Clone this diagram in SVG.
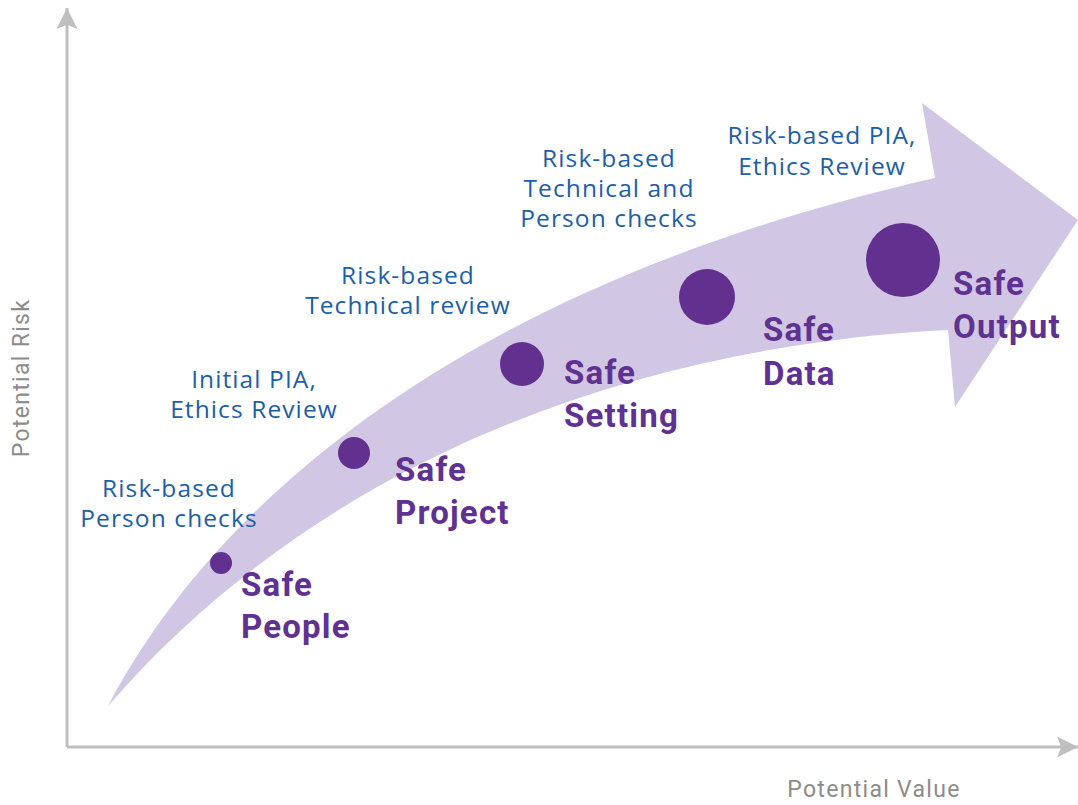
<svg xmlns="http://www.w3.org/2000/svg" width="1078" height="805" viewBox="0 0 1078 805">
<style>
.axis{stroke:#bfbfbf;stroke-width:3;fill:none}
.axlab{font-family:Roboto,"Liberation Sans",sans-serif;font-size:23px;letter-spacing:1.3px;fill:#8c8c8c}
.note{font-family:"Open Sans","Liberation Sans",sans-serif;font-size:24.5px;letter-spacing:1.1px;fill:#1b5ea9;text-anchor:middle}
.safe{font-family:Roboto,"Liberation Sans",sans-serif;font-size:33px;letter-spacing:1.2px;font-weight:bold;fill:#5f3192}
.dot{fill:#62318f}
</style>
<defs>
<marker id="ah" viewBox="0 0 10 10" refX="10" refY="5" markerWidth="7" markerHeight="7" orient="auto" markerUnits="strokeWidth">
<path d="M0,0 L10,5 L0,10 L2,5 Z" fill="#bfbfbf"/>
</marker>
</defs>
<g id="connectors">
<path class="axis" d="M67,747 L67,8" marker-end="url(#ah)"/>
<path class="axis" d="M67,747 L1078,747" marker-end="url(#ah)"/>
</g>
<g id="band">
<path d="M108,706 C190,550 400,300 935,178 L922,103 L1078,220 L955,407 L948,330 C650,345 330,450 108,706 Z" fill="#d1c6e3"/>
</g>
<g id="axis-labels">
<text class="axlab" transform="translate(29,378) rotate(-90)" text-anchor="middle">Potential Risk</text>
<text class="axlab" x="874" y="797" text-anchor="middle">Potential Value</text>
</g>
<g id="safe-people">
<circle class="dot" cx="221" cy="563" r="11"/>
<text class="safe" x="241" y="596">Safe</text>
<text class="safe" x="241" y="638">People</text>
<text class="note" x="169" y="497">Risk-based</text>
<text class="note" x="169" y="527">Person checks</text>
</g>
<g id="safe-project">
<circle class="dot" cx="354" cy="453" r="16"/>
<text class="safe" x="395" y="481">Safe</text>
<text class="safe" x="395" y="524">Project</text>
<text class="note" x="254" y="388">Initial PIA,</text>
<text class="note" x="254" y="418">Ethics Review</text>
</g>
<g id="safe-setting">
<circle class="dot" cx="522" cy="364" r="22"/>
<text class="safe" x="564" y="384">Safe</text>
<text class="safe" x="564" y="427">Setting</text>
<text class="note" x="408" y="284">Risk-based</text>
<text class="note" x="408" y="314">Technical review</text>
</g>
<g id="safe-data">
<circle class="dot" cx="707" cy="297" r="28"/>
<text class="safe" x="763" y="341">Safe</text>
<text class="safe" x="763" y="385">Data</text>
<text class="note" x="609" y="167">Risk-based</text>
<text class="note" x="609" y="197">Technical and</text>
<text class="note" x="609" y="227">Person checks</text>
</g>
<g id="safe-output">
<circle class="dot" cx="903" cy="260" r="37"/>
<text class="safe" x="953" y="295">Safe</text>
<text class="safe" x="953" y="338">Output</text>
<text class="note" x="822" y="144">Risk-based PIA,</text>
<text class="note" x="822" y="175">Ethics Review</text>
</g>
</svg>
